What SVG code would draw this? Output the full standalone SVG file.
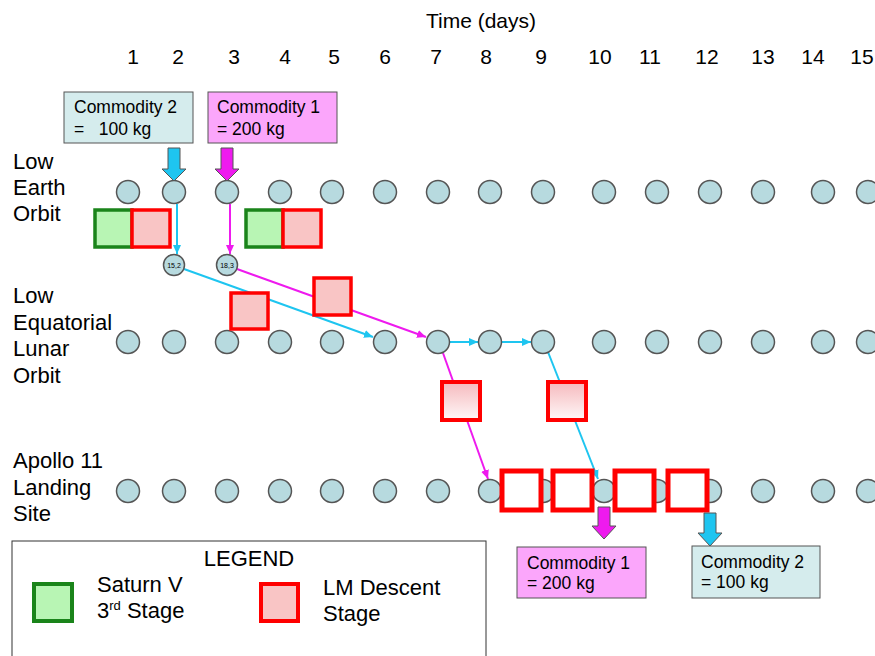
<svg xmlns="http://www.w3.org/2000/svg" width="875" height="656" viewBox="0 0 875 656">
<style>
text{font-family:"Liberation Sans",Arial,sans-serif;fill:#000}
.lbl{font-size:22px}
.num{font-size:21px;text-anchor:middle}
.box{font-size:17.5px}
.n{fill:#b7dadf;stroke:#555;stroke-width:1.5}
.sm{font-size:7px;text-anchor:middle}
.g{fill:#b8f5b4;stroke:#1a841a;stroke-width:3.5}
.r{fill:#f9c5c5;stroke:#ff0000;stroke-width:3.5}
.rg{fill:url(#grad);stroke:#ff0000;stroke-width:4}
.rw{fill:#fff;stroke:#ff0000;stroke-width:5}
.cy{stroke:#1ec5f0;stroke-width:2;fill:none}
.mg{stroke:#ee1aee;stroke-width:2;fill:none}
.ba{stroke:#555;stroke-width:1}
</style>
<defs>
<linearGradient id="grad" x1="0" y1="0" x2="0" y2="1">
<stop offset="0" stop-color="#f5b9bd"/>
<stop offset="1" stop-color="#fff8f8"/>
</linearGradient>
<marker id="ac" markerWidth="9" markerHeight="8" refX="9" refY="4" orient="auto" markerUnits="userSpaceOnUse">
<path d="M0,0 L9,4 L0,8 z" fill="#1ec5f0"/>
</marker>
<marker id="am" markerWidth="9" markerHeight="8" refX="9" refY="4" orient="auto" markerUnits="userSpaceOnUse">
<path d="M0,0 L9,4 L0,8 z" fill="#ee1aee"/>
</marker>
</defs>
<rect width="875" height="656" fill="#fff"/>

<g id="axis">
<text x="481" y="28" class="num">Time (days)</text>
<text x="133" y="64" class="num">1</text>
<text x="178" y="64" class="num">2</text>
<text x="234" y="64" class="num">3</text>
<text x="285" y="64" class="num">4</text>
<text x="334" y="64" class="num">5</text>
<text x="385" y="64" class="num">6</text>
<text x="436" y="64" class="num">7</text>
<text x="486" y="64" class="num">8</text>
<text x="541" y="64" class="num">9</text>
<text x="600" y="64" class="num">10</text>
<text x="650" y="64" class="num">11</text>
<text x="707" y="64" class="num">12</text>
<text x="763" y="64" class="num">13</text>
<text x="813" y="64" class="num">14</text>
<text x="862" y="64" class="num">15</text>
</g>

<g id="row-labels">
<text x="13" y="169" class="lbl">Low</text>
<text x="13" y="195" class="lbl">Earth</text>
<text x="13" y="221" class="lbl">Orbit</text>
<text x="13" y="303" class="lbl">Low</text>
<text x="13" y="330" class="lbl">Equatorial</text>
<text x="13" y="356" class="lbl">Lunar</text>
<text x="13" y="383" class="lbl">Orbit</text>
<text x="13" y="468" class="lbl">Apollo 11</text>
<text x="13" y="495" class="lbl">Landing</text>
<text x="13" y="521" class="lbl">Site</text>
</g>

<g id="connectors">
<line class="cy" x1="177" y1="204" x2="177" y2="254" marker-end="url(#ac)"/>
<line class="mg" x1="230" y1="204" x2="230" y2="254" marker-end="url(#am)"/>
<line class="cy" x1="184" y1="269" x2="373" y2="337" marker-end="url(#ac)"/>
<line class="mg" x1="237" y1="269" x2="426" y2="337" marker-end="url(#am)"/>
<line class="cy" x1="450" y1="342" x2="478" y2="342" marker-end="url(#ac)"/>
<line class="cy" x1="502" y1="342" x2="531" y2="342" marker-end="url(#ac)"/>
<line class="mg" x1="443" y1="353" x2="488" y2="479" marker-end="url(#am)"/>
<line class="cy" x1="548" y1="352" x2="598" y2="479" marker-end="url(#ac)"/>
</g>

<g id="leo-nodes">
<circle class="n" cx="128" cy="192" r="11.5"/>
<circle class="n" cx="174" cy="192" r="11.5"/>
<circle class="n" cx="227" cy="192" r="11.5"/>
<circle class="n" cx="280" cy="192" r="11.5"/>
<circle class="n" cx="332" cy="192" r="11.5"/>
<circle class="n" cx="385" cy="192" r="11.5"/>
<circle class="n" cx="438" cy="192" r="11.5"/>
<circle class="n" cx="490" cy="192" r="11.5"/>
<circle class="n" cx="543" cy="192" r="11.5"/>
<circle class="n" cx="604" cy="192" r="11.5"/>
<circle class="n" cx="657" cy="192" r="11.5"/>
<circle class="n" cx="710" cy="192" r="11.5"/>
<circle class="n" cx="763" cy="192" r="11.5"/>
<circle class="n" cx="823" cy="192" r="11.5"/>
<circle class="n" cx="868" cy="192" r="11.5"/>
</g>

<g id="transfer-nodes">
<circle class="n" cx="174" cy="265" r="10.5"/>
<text x="174" y="267.5" class="sm">15,2</text>
<circle class="n" cx="227" cy="265" r="10.5"/>
<text x="227" y="267.5" class="sm">18,3</text>
</g>

<g id="lelo-nodes">
<circle class="n" cx="128" cy="342" r="11.5"/>
<circle class="n" cx="174" cy="342" r="11.5"/>
<circle class="n" cx="227" cy="342" r="11.5"/>
<circle class="n" cx="280" cy="342" r="11.5"/>
<circle class="n" cx="332" cy="342" r="11.5"/>
<circle class="n" cx="385" cy="342" r="11.5"/>
<circle class="n" cx="438" cy="342" r="11.5"/>
<circle class="n" cx="490" cy="342" r="11.5"/>
<circle class="n" cx="543" cy="342" r="11.5"/>
<circle class="n" cx="604" cy="342" r="11.5"/>
<circle class="n" cx="657" cy="342" r="11.5"/>
<circle class="n" cx="710" cy="342" r="11.5"/>
<circle class="n" cx="763" cy="342" r="11.5"/>
<circle class="n" cx="823" cy="342" r="11.5"/>
<circle class="n" cx="868" cy="342" r="11.5"/>
</g>

<g id="landing-nodes">
<circle class="n" cx="128" cy="491" r="11.5"/>
<circle class="n" cx="174" cy="491" r="11.5"/>
<circle class="n" cx="227" cy="491" r="11.5"/>
<circle class="n" cx="280" cy="491" r="11.5"/>
<circle class="n" cx="332" cy="491" r="11.5"/>
<circle class="n" cx="385" cy="491" r="11.5"/>
<circle class="n" cx="438" cy="491" r="11.5"/>
<circle class="n" cx="490" cy="491" r="11.5"/>
<circle class="n" cx="543" cy="491" r="11.5"/>
<circle class="n" cx="604" cy="491" r="11.5"/>
<circle class="n" cx="657" cy="491" r="11.5"/>
<circle class="n" cx="710" cy="491" r="11.5"/>
<circle class="n" cx="763" cy="491" r="11.5"/>
<circle class="n" cx="823" cy="491" r="11.5"/>
<circle class="n" cx="868" cy="491" r="11.5"/>
</g>

<g id="stages">
<rect class="g" x="95" y="210" width="37" height="37"/>
<rect class="r" x="132" y="210" width="38" height="37"/>
<rect class="g" x="246" y="210" width="37" height="37"/>
<rect class="r" x="283" y="210" width="38" height="37"/>
<rect class="r" x="231" y="293" width="37" height="36"/>
<rect class="r" x="314" y="278" width="37" height="37"/>
<rect class="rg" x="442" y="382" width="38" height="38"/>
<rect class="rg" x="548" y="382" width="38" height="38"/>
<rect class="rw" x="502" y="471" width="39" height="39"/>
<rect class="rw" x="553" y="471" width="39" height="39"/>
<rect class="rw" x="615" y="471" width="39" height="39"/>
<rect class="rw" x="668" y="471" width="39" height="39"/>
</g>

<g id="commodity2-top">
<rect x="64" y="92" width="129" height="51" fill="#d5eced" stroke="#555" stroke-width="1"/>
<text x="74" y="113" class="box">Commodity 2</text>
<text x="74" y="135" class="box" xml:space="preserve">=   100 kg</text>
<polygon class="ba" fill="#1ec5f0" points="168,148 180,148 180,169 186,169 174,181 162,169 168,169"/>
</g>

<g id="commodity1-top">
<rect x="208" y="92" width="129" height="51" fill="#fba6fb" stroke="#555" stroke-width="1"/>
<text x="217" y="113" class="box">Commodity 1</text>
<text x="217" y="135" class="box">= 200 kg</text>
<polygon class="ba" fill="#ee1aee" points="221,148 233,148 233,169 239,169 227,181 215,169 221,169"/>
</g>

<g id="commodity1-bottom">
<polygon class="ba" fill="#ee1aee" points="598,507 610,507 610,526 616,526 604,539 592,526 598,526"/>
<rect x="517" y="547" width="129" height="51" fill="#fba6fb" stroke="#555" stroke-width="1"/>
<text x="527" y="569" class="box">Commodity 1</text>
<text x="527" y="589" class="box">= 200 kg</text>
</g>

<g id="commodity2-bottom">
<polygon class="ba" fill="#1ec5f0" points="704,513 716,513 716,533 722,533 710,546 698,533 704,533"/>
<rect x="692" y="546" width="128" height="52" fill="#d5eced" stroke="#555" stroke-width="1"/>
<text x="701" y="568" class="box">Commodity 2</text>
<text x="701" y="588" class="box">= 100 kg</text>
</g>

<g id="legend">
<rect x="12" y="541" width="474" height="130" fill="#fff" stroke="#333" stroke-width="1"/>
<text x="249" y="566" class="lbl" text-anchor="middle">LEGEND</text>
<rect x="34" y="584" width="38" height="37" fill="#b8f5b4" stroke="#1a841a" stroke-width="4"/>
<text x="97" y="592" class="lbl">Saturn V</text>
<text x="97" y="618" class="lbl">3<tspan font-size="13" dy="-8">rd</tspan><tspan dy="8"> Stage</tspan></text>
<rect x="261" y="584" width="37" height="37" fill="#f9c5c5" stroke="#ff0000" stroke-width="4"/>
<text x="323" y="595" class="lbl">LM Descent</text>
<text x="323" y="621" class="lbl">Stage</text>
</g>
</svg>
